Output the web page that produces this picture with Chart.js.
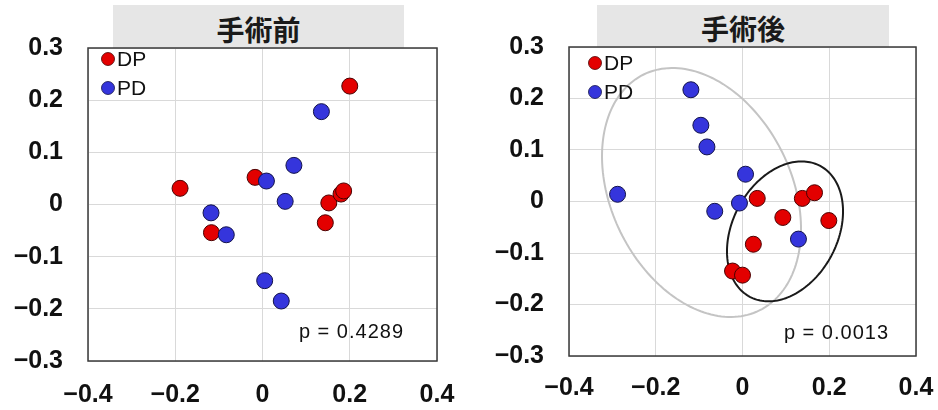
<!DOCTYPE html>
<html>
<head>
<meta charset="utf-8">
<script src="https://cdn.jsdelivr.net/npm/chart.js@4.4.1/dist/chart.umd.min.js"></script>
<style>
  html, body { margin: 0; padding: 0; background: #fff; }
  #wrap { position: relative; width: 938px; height: 410px; overflow: hidden; }
  .panel { position: absolute; top: 0; width: 469px; height: 410px; }
  .bar {
    position: absolute; background: #e6e6e6; color: #1a1a1a; text-align: center;
    font: bold 28px "Noto Sans CJK JP", sans-serif;
  }
</style>
</head>
<body>
<div id="wrap">
  <div class="bar" id="title1" style="left:113px;top:5px;width:291px;height:43px;line-height:48px;"></div>
  <div class="bar" id="title2" style="left:597px;top:5px;width:292px;height:42px;line-height:47px;"></div>
  <div class="panel" style="left:0px"><canvas id="c1" width="469" height="410"></canvas></div>
  <div class="panel" style="left:469px"><canvas id="c2" width="469" height="410"></canvas></div>
</div>
<script>
// Panel titles and group names
const panelTitles = ['手術前', '手術後'];
const groupNames = ['DP', 'PD'];
const pValues = ['0.4289', '0.0013'];

// Axis ticks
const xTickValues = [-0.4, -0.2, 0, 0.2, 0.4];
const xTickLabels = ['\u22120.4', '\u22120.2', '0', '0.2', '0.4'];
const yTickValues = [-0.3, -0.2, -0.1, 0, 0.1, 0.2, 0.3];
const yTickLabels = ['\u22120.3', '\u22120.2', '\u22120.1', '0', '0.1', '0.2', '0.3'];

// Before surgery
const preDpX = [0.200, -0.189, -0.017, 0.152, 0.180, 0.186, 0.144, -0.117];
const preDpY = [0.227, 0.031, 0.052, 0.003, 0.020, 0.026, -0.035, -0.054];
const prePdX = [0.135, 0.072, 0.009, 0.052, -0.118, -0.083, 0.005, 0.043];
const prePdY = [0.178, 0.075, 0.045, 0.006, -0.016, -0.058, -0.146, -0.185];

// After surgery
const postDpX = [0.034, 0.138, 0.166, 0.093, 0.199, 0.025, -0.023, 0.000];
const postDpY = [0.006, 0.006, 0.017, -0.031, -0.037, -0.083, -0.135, -0.143];
const postPdX = [-0.119, -0.096, -0.082, 0.007, -0.288, -0.007, -0.064, 0.129];
const postPdY = [0.217, 0.148, 0.106, 0.053, 0.014, -0.003, -0.019, -0.073];

// Group ellipses after surgery: centre and two semi-axis vectors (data units)
const ellipsePd = { cx: -0.0945, cy: 0.0175, ux: 0.1333, uy: -0.2291, vx: 0.1867, vy: 0.0771 };
const ellipseDp = { cx: 0.098, cy: -0.058, ux: 0.0812, uy: 0.1270, vx: 0.1063, vy: -0.0482 };

document.getElementById('title1').textContent = panelTitles[0];
document.getElementById('title2').textContent = panelTitles[1];

const RED = '#e30000', RED_EDGE = '#4a0000';
const BLUE = '#3535dc', BLUE_EDGE = '#12124a';
const TICK_FONT = { family: '"Liberation Sans", Arial, sans-serif', size: 25, weight: 'bold' };

function toPoints(xs, ys) { return xs.map((x, i) => ({ x, y: ys[i] })); }

// Plot frame around the chart area
const framePlugin = {
  id: 'frame',
  beforeDatasetsDraw(chart) {
    const { ctx, chartArea: a } = chart;
    ctx.save();
    ctx.strokeStyle = '#3a3a3a';
    ctx.lineWidth = 1.5;
    ctx.strokeRect(a.left, a.top, a.right - a.left, a.bottom - a.top);
    ctx.restore();
  }
};

// Ellipses drawn through the chart's scales
const ellipsePlugin = {
  id: 'groupEllipses',
  beforeDatasetsDraw(chart, args, opts) {
    const list = opts.items || [];
    if (!list.length) return;
    const { ctx, scales: { x, y } } = chart;
    ctx.save();
    list.forEach(e => {
      ctx.beginPath();
      const n = 180;
      for (let k = 0; k <= n; k++) {
        const t = (k / n) * Math.PI * 2;
        const dx = e.shape.cx + e.shape.ux * Math.cos(t) + e.shape.vx * Math.sin(t);
        const dy = e.shape.cy + e.shape.uy * Math.cos(t) + e.shape.vy * Math.sin(t);
        const px = x.getPixelForValue(dx), py = y.getPixelForValue(dy);
        if (k === 0) ctx.moveTo(px, py); else ctx.lineTo(px, py);
      }
      ctx.closePath();
      ctx.strokeStyle = e.color;
      ctx.lineWidth = e.width;
      ctx.stroke();
    });
    ctx.restore();
  }
};

// Legend and p-value placed inside the plot
const notesPlugin = {
  id: 'notes',
  afterDatasetsDraw(chart, args, opts) {
    const { ctx, chartArea: a } = chart;
    ctx.save();
    chart.data.datasets.slice().sort((p, q) => p.legendRank - q.legendRank).forEach((ds, i) => {
      const cx = a.left + opts.legendX, cy = a.top + opts.legendY + i * opts.legendGap;
      ctx.beginPath();
      ctx.arc(cx, cy, 6.5, 0, Math.PI * 2);
      ctx.fillStyle = ds.backgroundColor;
      ctx.fill();
      ctx.lineWidth = 0.8;
      ctx.strokeStyle = ds.borderColor;
      ctx.stroke();
      ctx.fillStyle = '#111';
      ctx.font = '21px "Liberation Sans", Arial, sans-serif';
      ctx.textBaseline = 'middle';
      ctx.textAlign = 'left';
      ctx.fillText(ds.label, cx + 9, cy + 1);
    });
    ctx.font = '20px "Liberation Sans", Arial, sans-serif';
    if ('letterSpacing' in ctx) ctx.letterSpacing = '1px';
    ctx.textAlign = 'right';
    ctx.textBaseline = 'middle';
    ctx.fillStyle = '#111';
    ctx.fillText('p = ' + opts.p, a.right - opts.pRight, a.bottom - opts.pBottom);
    ctx.restore();
  }
};

function makeChart(id, dp, pd, layout, extra) {
  return new Chart(document.getElementById(id), {
    type: 'scatter',
    data: {
      datasets: [
        { label: groupNames[0], data: dp, legendRank: 0, order: 1,
          backgroundColor: RED, borderColor: RED_EDGE, borderWidth: 1,
          pointRadius: 8, pointHoverRadius: 8 },
        { label: groupNames[1], data: pd, legendRank: 1, order: 0,
          backgroundColor: BLUE, borderColor: BLUE_EDGE, borderWidth: 1,
          pointRadius: 8, pointHoverRadius: 8 }
      ]
    },
    options: {
      responsive: false,
      animation: false,
      events: [],
      layout: { padding: { top: layout.top, right: layout.right, left: 0, bottom: 0 } },
      plugins: {
        legend: { display: false },
        tooltip: { enabled: false },
        groupEllipses: { items: extra.ellipses },
        notes: extra.notes
      },
      scales: {
        x: {
          type: 'linear', min: -0.4, max: 0.4,
          afterBuildTicks: s => { s.ticks = xTickValues.map(v => ({ value: v })); },
          afterFit: s => { s.height = layout.xh; s.paddingLeft = 0; s.paddingRight = 0; },
          ticks: { callback: (v, i) => xTickLabels[i], font: TICK_FONT, color: '#111',
                   padding: layout.xpad, maxRotation: 0, autoSkip: false },
          grid: { color: '#d9d9d9', lineWidth: 1, drawTicks: false },
          border: { display: false }
        },
        y: {
          type: 'linear', min: -0.3, max: 0.3,
          afterBuildTicks: s => { s.ticks = yTickValues.map(v => ({ value: v })); },
          afterFit: s => { s.width = layout.yw; s.paddingTop = 0; s.paddingBottom = 0; },
          ticks: { callback: (v, i) => yTickLabels[i], font: TICK_FONT, color: '#111',
                   padding: 25, autoSkip: false },
          grid: { color: '#d9d9d9', lineWidth: 1, drawTicks: false },
          border: { display: false }
        }
      }
    },
    plugins: [framePlugin, ellipsePlugin, notesPlugin]
  });
}

makeChart('c1', toPoints(preDpX, preDpY), toPoints(prePdX, prePdY),
  { top: 48, right: 32, yw: 88, xh: 49, xpad: 19 },
  { ellipses: [], notes: { legendX: 20, legendY: 11, legendGap: 29, p: pValues[0], pRight: 33, pBottom: 29 } });

makeChart('c2', toPoints(postDpX, postDpY), toPoints(postPdX, postPdY),
  { top: 47, right: 22, yw: 100, xh: 54, xpad: 17 },
  { ellipses: [
      { shape: ellipsePd, color: '#c4c4c4', width: 2 },
      { shape: ellipseDp, color: '#1a1a1a', width: 2 }
    ],
    notes: { legendX: 26, legendY: 16, legendGap: 29, p: pValues[1], pRight: 27, pBottom: 23 } });
</script>
</body>
</html>
